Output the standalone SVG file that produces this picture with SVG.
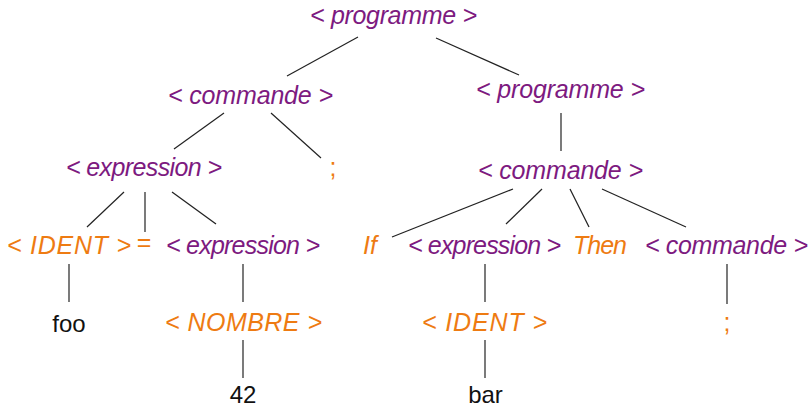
<svg xmlns="http://www.w3.org/2000/svg" width="810" height="408" viewBox="0 0 810 408">
<style>
text{font-family:"Liberation Sans","DejaVu Sans",sans-serif;font-size:25px;text-anchor:middle}
.nt{fill:#7d1a80;font-style:italic}
.t{fill:#ee7b12;font-style:italic}
.p{fill:#ee7b12}
.w{fill:#111;font-size:24px}
.e line{stroke:#222;stroke-width:1.2}
</style>
<rect width="810" height="408" fill="#fff"/>
<g class="e" id="connectors">
<line x1="358" y1="37" x2="287" y2="76"/>
<line x1="436" y1="38" x2="519" y2="75"/>
<line x1="224" y1="113" x2="174" y2="149"/>
<line x1="271" y1="113" x2="321" y2="158"/>
<line x1="561" y1="113" x2="561" y2="151"/>
<line x1="124" y1="192" x2="87" y2="227"/>
<line x1="145" y1="192" x2="145" y2="232"/>
<line x1="172" y1="192" x2="216" y2="224"/>
<line x1="513" y1="189" x2="392" y2="237"/>
<line x1="542" y1="189" x2="506" y2="224"/>
<line x1="570" y1="189" x2="589" y2="227"/>
<line x1="602" y1="189" x2="686" y2="227"/>
<line x1="69" y1="264" x2="69" y2="302"/>
<line x1="243" y1="264" x2="243" y2="302"/>
<line x1="485" y1="264" x2="485" y2="302"/>
<line x1="727" y1="264" x2="727" y2="304"/>
<line x1="243" y1="340" x2="243" y2="378"/>
<line x1="485" y1="340" x2="485" y2="378"/>
</g>
<g id="n-programme"><text class="nt" x="393.5" y="24" textLength="167">&lt; programme &gt;</text></g>
<g id="n-commande1"><text class="nt" x="250.5" y="104" textLength="165">&lt; commande &gt;</text></g>
<g id="n-programme2"><text class="nt" x="560.5" y="98" textLength="169">&lt; programme &gt;</text></g>
<g id="n-expression1"><text class="nt" x="144" y="176" textLength="156">&lt; expression &gt;</text></g>
<g id="n-semi1"><text class="p" x="333" y="176">;</text></g>
<g id="n-commande2"><text class="nt" x="560.5" y="179" textLength="165">&lt; commande &gt;</text></g>
<g id="n-ident1"><text class="t" x="69" y="254" textLength="124">&lt; IDENT &gt;</text></g>
<g id="n-eq"><text class="p" x="144" y="251">=</text></g>
<g id="n-expression2"><text class="nt" x="243" y="254" textLength="154">&lt; expression &gt;</text></g>
<g id="n-if"><text class="t" x="370" y="254">If</text></g>
<g id="n-expression3"><text class="nt" x="484.5" y="254" textLength="153">&lt; expression &gt;</text></g>
<g id="n-then"><text class="t" x="600" y="254" textLength="54">Then</text></g>
<g id="n-commande3"><text class="nt" x="726.5" y="254" textLength="163">&lt; commande &gt;</text></g>
<g id="n-foo"><text class="w" x="69" y="332">foo</text></g>
<g id="n-nombre"><text class="t" x="243.5" y="331" textLength="157">&lt; NOMBRE &gt;</text></g>
<g id="n-ident2"><text class="t" x="484.5" y="331" textLength="125">&lt; IDENT &gt;</text></g>
<g id="n-semi2"><text class="p" x="727" y="331">;</text></g>
<g id="n-42"><text class="w" x="243" y="403">42</text></g>
<g id="n-bar"><text class="w" x="485.5" y="403">bar</text></g>
</svg>
